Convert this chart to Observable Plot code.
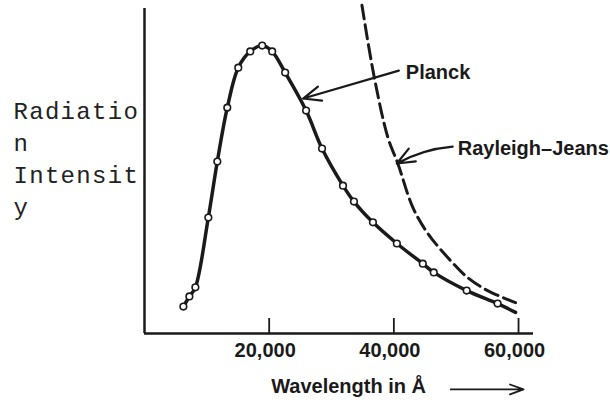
<!DOCTYPE html>
<html><head><meta charset="utf-8">
<script src="https://cdn.jsdelivr.net/npm/d3@7"></script>
<script src="https://cdn.jsdelivr.net/npm/@observablehq/plot@0.6"></script>
<style>body{margin:0;background:#fff}</style>
</head><body><div id="chart"></div>
<script>
// Measured Planck points (open circles)
const planckDotWavelength = [6240, 7200, 8160, 10240, 11680, 13280, 15040, 16960, 18880, 20480, 22560, 25920, 28480, 31840, 33600, 36640, 40480, 44640, 46400, 51680, 56640];
const planckDotIntensity  = [8.3, 11.4, 14.2, 35.7, 52.9, 69.5, 81.8, 86.8, 88.6, 86.8, 80.3, 68.6, 56.9, 45.5, 40.6, 34.2, 27.7, 21.5, 18.8, 13.2, 9.2];
// Planck curve (solid line) – same points plus the line's tail
const planckCurveWavelength = [6240, 7200, 8160, 10240, 11680, 13280, 15040, 16960, 18880, 20480, 22560, 25920, 28480, 31840, 33600, 36640, 40480, 44640, 46400, 51680, 56640, 59520];
const planckCurveIntensity  = [8.3, 11.4, 14.2, 35.7, 52.9, 69.5, 81.8, 86.8, 88.6, 86.8, 80.3, 68.6, 56.9, 45.5, 40.6, 34.2, 27.7, 21.5, 18.8, 13.2, 9.2, 6.5];
// Rayleigh–Jeans curve (dashed)
const rjWavelength = [34880, 36800, 39040, 40640, 43040, 45440, 48640, 51840, 55040, 59520];
const rjIntensity  = [101, 79.4, 60.3, 52.3, 38.8, 30.8, 23.4, 17.2, 13.2, 9.5];
// Tick labels and texts
const xTicks = [20000, 40000, 60000];
const yLabelLines = ["Radiatio", "n", "Intensit", "y"];
const xLabel = "Wavelength in Å";
const seriesNames = ["Planck", "Rayleigh–Jeans"];

const dots = planckDotWavelength.map((w, i) => ({w, v: planckDotIntensity[i]}));
const planck = planckCurveWavelength.map((w, i) => ({w, v: planckCurveIntensity[i]}));
const rj = rjWavelength.map((w, i) => ({w, v: rjIntensity[i]}));

const sans = "'Liberation Sans', Arial, Helvetica, sans-serif";
const ink = "#1a1a1a";

const plot = Plot.plot({
  width: 610,
  height: 400,
  marginLeft: 144,
  marginRight: 77,
  marginTop: 8,
  marginBottom: 67,
  style: {fontFamily: sans, background: "white", color: ink, overflow: "visible"},
  x: {domain: [0, 62400], axis: null},
  y: {domain: [0, 100], axis: null},
  marks: [
    Plot.ruleY([0], {stroke: ink, strokeWidth: 2.5}),
    Plot.ruleX([0], {stroke: ink, strokeWidth: 2.5}),
    Plot.ruleX(xTicks, {y1: 0, y2: 0, insetBottom: 15, stroke: ink, strokeWidth: 1.8}),
    Plot.axisX({ticks: xTicks, tickSize: 0, tickPadding: 9, dx: -4, fontSize: 20, fontWeight: "bold", tickFormat: d3.format(","), label: null, fill: ink}),
    Plot.line(rj, {x: "w", y: "v", curve: "catmull-rom", stroke: ink, strokeWidth: 3, strokeDasharray: "14,6"}),
    Plot.line(planck, {x: "w", y: "v", curve: "catmull-rom", stroke: ink, strokeWidth: 3.5}),
    Plot.dot(dots, {x: "w", y: "v", r: 3.3, fill: "white", stroke: ink, strokeWidth: 1.6}),
    // annotations
    Plot.arrow([{x1: 40800, y1: 80.9, x2: 25440, y2: 72.3}], {x1: "x1", y1: "y1", x2: "x2", y2: "y2", stroke: ink, strokeWidth: 2.2, headLength: 13, headAngle: 45}),
    Plot.arrow([{x1: 49440, y1: 57.5, x2: 40480, y2: 52.3}], {x1: "x1", y1: "y1", x2: "x2", y2: "y2", bend: -12, stroke: ink, strokeWidth: 2.2, headLength: 13, headAngle: 45}),
    Plot.text([{x: 41920, y: 80.3, t: seriesNames[0]}], {x: "x", y: "y", text: "t", textAnchor: "start", fontSize: 20, fontWeight: "bold", fill: ink}),
    Plot.text([{x: 50240, y: 56.9, t: seriesNames[1]}], {x: "x", y: "y", text: "t", textAnchor: "start", fontSize: 20, fontWeight: "bold", fill: ink}),
    Plot.text([{x: 20320, y: -16.3, t: xLabel}], {x: "x", y: "y", text: "t", textAnchor: "start", fontSize: 20, fontWeight: "bold", fill: ink}),
    Plot.arrow([{x1: 49120, y1: -17.2, x2: 60800, y2: -17.2}], {x1: "x1", y1: "y1", x2: "x2", y2: "y2", stroke: ink, strokeWidth: 1.8, headLength: 12, headAngle: 40}),
    Plot.text([yLabelLines.join("\n")], {frameAnchor: "top-left", dx: -131, dy: 88, textAnchor: "start", lineAnchor: "top", lineHeight: 1.333, fontSize: 24, fontFamily: "'Courier New', 'Liberation Mono', monospace", fill: "#222"})
  ]
});
plot.querySelectorAll("text").forEach(t => {
  if (t.textContent.startsWith("Radiatio")) t.setAttribute("letter-spacing", "1.3");
});
document.getElementById("chart").appendChild(plot);
</script>
</body></html>
